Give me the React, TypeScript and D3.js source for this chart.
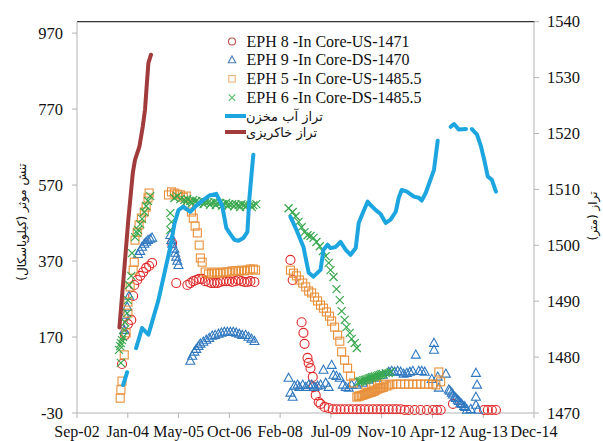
import React from "react";
import * as d3 from "d3";

// ---- data (decimal year, value) ----
const xTickLabels = ["Sep-02","Jan-04","May-05","Oct-06","Feb-08","Jul-09","Nov-10","Apr-12","Aug-13","Dec-14"];
const leftTicks = [-30, 170, 370, 570, 770, 970];
const rightTicks = [1470, 1480, 1490, 1500, 1510, 1520, 1530, 1540];

const seriesNames = [
  "EPH 8 -In Core-US-1471",
  "EPH 9 -In Core-DS-1470",
  "EPH 5 -In Core-US-1485.5",
  "EPH 6 -In Core-DS-1485.5",
];
const lineNames = ["تراز آب مخزن", "تراز خاکریزی"];
const leftTitle = "تنش موثر (کیلوپاسکال)";
const rightTitle = "تراز (متر)";

const eph8: [number, number][] = [
  [2003.88,99],[2003.96,175],[2004.04,204],[2004.13,215],[2004.18,278],[2004.21,307],[2004.29,320],[2004.37,331],[2004.45,341],[2004.53,352],[2004.61,357],[2004.69,365],
  [2005.23,417],[2005.34,312],
  [2005.64,307],[2005.72,312],[2005.80,317],[2005.88,320],[2005.96,323],[2006.04,323],[2006.12,317],[2006.21,315],[2006.29,312],[2006.37,312],[2006.45,312],[2006.53,315],[2006.61,317],[2006.69,317],[2006.77,317],[2006.85,315],[2006.94,317],[2007.02,320],[2007.10,317],[2007.18,315],[2007.26,315],[2007.34,317],[2007.45,315],
  [2008.42,373],[2008.48,320],[2008.72,209],[2008.77,181],[2008.80,152],[2008.88,115],[2008.91,102],[2008.96,88],[2009.02,65],[2009.04,38],[2009.10,17],[2009.18,-1],[2009.23,-6],[2009.34,-14],[2009.45,-17],
  [2009.56,-20],[2009.66,-20],[2009.77,-20],[2009.88,-20],[2009.99,-20],[2010.10,-20],[2010.21,-20],[2010.31,-20],[2010.42,-20],[2010.53,-20],[2010.64,-20],[2010.75,-20],[2010.85,-20],[2010.96,-20],[2011.07,-20],[2011.18,-20],[2011.28,-20],[2011.39,-20],[2011.50,-22],[2011.61,-22],[2011.77,-22],[2011.93,-22],[2012.10,-22],[2012.26,-22],[2012.37,-22],[2012.47,-22],[2012.80,-6],
  [2013.64,-22],[2013.74,-22],[2013.85,-22],[2013.96,-22],
];

const eph9: [number, number][] = [
  [2003.94,188],[2003.96,228],[2004.02,249],[2004.07,278],[2004.31,388],[2004.37,396],[2004.42,407],[2004.48,415],[2004.53,420],[2004.58,425],[2004.64,428],[2004.69,431],
  [2005.18,438],[2005.21,425],[2005.23,415],[2005.29,402],[2005.31,391],[2005.34,381],[2005.37,370],[2005.40,359],
  [2005.72,107],[2005.77,120],[2005.83,131],[2005.88,138],[2005.94,146],[2005.99,152],[2006.07,157],[2006.15,162],[2006.23,167],[2006.31,173],[2006.39,175],[2006.48,178],[2006.56,181],[2006.64,183],[2006.72,183],[2006.80,183],[2006.88,183],[2006.96,181],[2007.04,178],[2007.12,175],[2007.21,175],[2007.29,170],[2007.37,165],[2007.45,159],
  [2008.37,62],[2008.42,23],[2008.48,12],[2008.53,41],[2008.61,44],[2008.66,38],[2008.75,44],[2008.83,38],[2008.91,44],[2008.99,44],[2009.07,38],[2009.15,41],[2009.23,44],[2009.31,83],[2009.37,49],[2009.45,38],[2009.53,96],[2009.58,70],[2009.66,67],[2009.75,62],[2009.83,44],[2009.91,38],[2009.99,36],[2010.07,44],[2010.21,44],[2010.37,49],[2010.53,57],[2010.72,62],[2010.91,70],
  [2011.07,78],[2011.15,80],[2011.23,78],[2011.31,80],[2011.39,78],[2011.47,73],[2011.56,75],[2011.64,78],[2011.72,80],[2011.80,123],[2011.88,80],[2011.96,80],[2012.04,78],
  [2012.29,154],[2012.29,136],[2012.23,59],[2012.39,65],[2012.42,36],[2012.61,73],[2012.69,31],[2012.72,28],[2012.77,23],[2012.80,18],[2012.85,12],[2012.88,9],[2012.93,4],[2012.96,1],[2013.01,-4],[2013.04,-7],[2013.10,-12],[2013.13,-15],[2013.18,-22],[2013.28,-20],
  [2013.42,75],[2013.45,44],[2013.42,12],[2013.42,-9],[2013.47,-22],
];

const eph5: [number, number][] = [
  [2003.83,9],[2003.85,31],[2003.88,54],[2003.94,123],[2003.99,181],[2004.04,233],[2004.04,262],[2004.10,302],[2004.18,346],[2004.21,367],[2004.23,425],[2004.29,446],[2004.34,465],[2004.40,483],[2004.48,499],[2004.53,512],[2004.58,536],[2004.61,549],
  [2005.13,544],[2005.21,552],[2005.29,549],[2005.37,546],[2005.45,544],[2005.53,538],[2005.61,541],[2005.67,515],[2005.75,499],[2005.80,483],[2005.85,462],[2005.91,444],[2005.96,412],[2005.99,378],[2006.04,367],
  [2006.12,341],[2006.21,336],[2006.29,338],[2006.37,341],[2006.45,338],[2006.53,338],[2006.61,341],[2006.69,341],[2006.77,341],[2006.85,344],[2006.94,344],[2007.02,344],[2007.10,346],[2007.18,344],[2007.26,346],[2007.34,349],[2007.42,349],[2007.48,346],
  [2008.42,346],[2008.50,338],[2008.58,331],[2008.66,320],[2008.75,312],[2008.83,302],[2008.91,291],[2008.99,286],[2009.07,275],[2009.15,265],[2009.23,254],[2009.31,246],[2009.39,236],[2009.47,225],[2009.53,212],[2009.61,196],[2009.69,175],[2009.75,159],[2009.80,131],[2009.88,109],[2009.96,88],[2010.04,67],[2010.12,49],
  [2010.21,12],[2010.25,14],[2010.29,15],[2010.33,16],[2010.37,17],[2010.41,19],[2010.45,20],[2010.49,22],[2010.53,23],[2010.57,24],[2010.61,25],[2010.65,27],[2010.69,28],[2010.73,31],[2010.77,33],[2010.81,35],[2010.85,36],[2010.89,37],[2010.93,38],[2011.02,41],[2011.10,44],
  [2010.45,46],[2010.61,46],[2010.77,46],[2010.93,46],
  [2011.18,46],[2011.28,46],[2011.39,46],[2011.50,46],[2011.61,46],[2011.72,46],[2011.83,46],[2011.93,46],[2012.04,46],[2012.15,46],[2012.26,46],[2012.34,44],[2012.42,78],[2012.47,52],
];

const eph6: [number, number][] = [
  [2003.85,102],[2003.80,136],[2003.83,146],[2003.85,154],[2003.88,162],[2003.91,170],[2003.94,188],[2003.96,209],[2004.02,233],[2004.04,267],[2004.07,307],[2004.13,331],[2004.15,391],[2004.23,433],[2004.29,444],[2004.31,452],[2004.37,467],[2004.42,481],[2004.48,499],[2004.53,515],[2004.58,528],[2004.64,541],
  [2005.18,496],[2005.21,473],[2005.18,452],[2005.29,536],[2005.37,541],[2005.45,533],
  [2005.56,531],[2005.64,533],[2005.72,528],[2005.80,531],[2005.88,528],[2005.96,525],[2006.04,528],[2006.12,525],[2006.21,525],[2006.29,523],[2006.37,525],[2006.45,523],[2006.53,523],[2006.61,520],[2006.69,523],[2006.77,520],[2006.85,520],[2006.94,520],[2007.02,517],[2007.10,520],[2007.18,517],[2007.26,517],[2007.34,517],[2007.42,517],[2007.50,520],
  [2005.60,525],[2005.76,522],[2005.92,521],[2006.08,520],[2006.25,518],[2006.41,517],[2006.57,516],[2006.73,515],[2006.90,514],[2007.06,512],[2007.22,513],[2007.38,512],
  [2008.37,509],[2008.48,499],[2008.56,488],[2008.64,473],[2008.72,459],[2008.80,446],[2008.88,438],[2008.96,436],[2009.04,431],[2009.12,420],[2009.21,409],[2009.29,396],[2009.37,383],[2009.45,365],[2009.50,346],[2009.58,328],[2009.66,296],[2009.75,267],[2009.80,238],[2009.88,215],[2009.93,196],[2010.02,181],[2010.07,165],[2010.15,154],[2010.21,141],
  [2010.26,52],[2010.30,53],[2010.34,54],[2010.38,56],[2010.42,57],[2010.46,58],[2010.50,59],[2010.54,61],[2010.58,62],[2010.62,64],[2010.66,65],[2010.70,66],[2010.75,67],[2010.79,69],[2010.83,70],[2010.87,72],[2010.91,73],[2010.99,75],[2011.07,75],[2011.12,78],
];

const reservoir: ([number, number] | null)[] = [
  [2003.91,1475.0],[2004.02,1477.3], null,
  [2004.26,1481.6],[2004.42,1485.2],[2004.59,1484.0],[2004.86,1490.2],[2005.18,1499.7],[2005.29,1503.8],[2005.40,1506.3],[2005.53,1506.9],[2005.72,1506.0],[2005.88,1507.1],[2006.07,1508.1],[2006.23,1508.9],[2006.42,1509.2],[2006.58,1507.1],[2006.69,1503.1],[2006.80,1502.0],[2006.91,1501.0],[2007.02,1500.8],[2007.15,1501.3],[2007.26,1502.4],[2007.31,1508.1],[2007.37,1512.6],[2007.42,1516.2], null,
  [2008.42,1505.1],[2008.58,1502.8],[2008.77,1499.7],[2008.91,1495.1],[2009.04,1494.4],[2009.23,1495.6],[2009.31,1499.2],[2009.42,1500.1],[2009.50,1499.5],[2009.64,1499.7],[2009.77,1500.6],[2009.91,1499.2],[2010.04,1498.3],[2010.18,1499.5],[2010.26,1504.0],[2010.37,1505.8],[2010.50,1507.8],[2010.58,1507.2],[2010.72,1506.3],[2010.85,1505.6],[2010.99,1504.0],[2011.12,1504.6],[2011.26,1506.0],[2011.34,1508.5],[2011.42,1509.9],[2011.56,1509.6],[2011.75,1508.7],[2011.88,1508.5],[2011.96,1508.0],[2012.07,1509.4],[2012.29,1513.5],[2012.39,1518.7], null,
  [2012.74,1521.2],[2012.83,1521.7],[2012.96,1520.7],[2013.15,1520.8], null,
  [2013.31,1520.8],[2013.45,1519.8],[2013.56,1517.6],[2013.66,1514.8],[2013.74,1512.3],[2013.85,1511.7],[2013.96,1509.6],
];

const embankment: [number, number][] = [
  [2003.81,1485.3],[2003.94,1495.6],[2004.05,1504.6],[2004.17,1512.9],[2004.23,1515.3],[2004.35,1517.7],[2004.44,1521.3],[2004.50,1524.3],[2004.55,1529.0],[2004.59,1532.6],[2004.66,1534.1],
];

// ---- helpers ----
function yearToDate(y: number): Date {
  const yr = Math.floor(y);
  const a = new Date(yr, 0, 1).getTime();
  const b = new Date(yr + 1, 0, 1).getTime();
  return new Date(a + (y - yr) * (b - a));
}

const W = 603, H = 441;
const L = 77, R = 534, T = 21.7, B = 413;
const start = new Date(2002, 8, 1);
const end = d3.timeDay.offset(start, 4500);
const x = d3.scaleTime().domain([start, end]).range([L, R]);
const yL = d3.scaleLinear().domain([-30, 1000]).range([B, T]);
const yR = d3.scaleLinear().domain([1470, 1540]).range([B, T]);
const xTicks = d3.range(10).map((i) => d3.timeDay.offset(start, 500 * i));
const fmt = d3.timeFormat("%b-%y");

const C_RED = "#e02a2a", C_BLUE = "#2f78c0", C_ORANGE = "#e8903a", C_GREEN = "#38a84e";
const C_LINE = "#1da5e0", C_BROWN = "#a23b3b";

const serif = "Liberation Serif, DejaVu Serif, serif";
const arab = "DejaVu Sans, sans-serif";

function Circle({ cx, cy, c, r = 4.5 }: any) {
  return <circle cx={cx} cy={cy} r={r} fill="none" stroke={c} strokeWidth={1.1} />;
}
function Tri({ cx, cy, c, s = 9 }: any) {
  const h = s * 0.9;
  return <path d={`M${cx},${cy - h * 0.6}L${cx + s / 2},${cy + h * 0.4}L${cx - s / 2},${cy + h * 0.4}Z`} fill="none" stroke={c} strokeWidth={1.1} />;
}
function Sq({ cx, cy, c, s = 8 }: any) {
  return <rect x={cx - s / 2} y={cy - s / 2} width={s} height={s} fill="none" stroke={c} strokeWidth={1.1} />;
}
function X({ cx, cy, c, s = 8 }: any) {
  const h = s / 2;
  return <path d={`M${cx - h},${cy - h}L${cx + h},${cy + h}M${cx - h},${cy + h}L${cx + h},${cy - h}`} stroke={c} strokeWidth={1.2} fill="none" />;
}

export default function App() {
  const lineGen = d3.line<[number, number] | null>()
    .defined((d) => d !== null)
    .x((d) => x(yearToDate((d as [number, number])[0])))
    .y((d) => yR((d as [number, number])[1]));

  const legendRows = [41.5, 60, 78.8, 97.6];
  const legendMarkX = 232;

  return (
    <svg width={W} height={H} style={{ position: "absolute", left: 0, top: 0, background: "#fff" }}>
      <rect width={W} height={H} fill="#fff" />
      {/* axes */}
      <line x1={L} x2={R + 1} y1={T} y2={T} stroke="#333" strokeWidth={1.3} />
      <line x1={L} x2={L} y1={T} y2={B} stroke="#b3b3b3" strokeWidth={1} />
      <line x1={R} x2={R} y1={T} y2={B} stroke="#b3b3b3" strokeWidth={1} />
      <line x1={L} x2={R} y1={B} y2={B} stroke="#b3b3b3" strokeWidth={1} />
      {leftTicks.map((t) => (
        <g key={"l" + t}>
          <line x1={L - 5} x2={L} y1={yL(t)} y2={yL(t)} stroke="#b3b3b3" />
          <text x={63} y={yL(t)} dy="0.35em" textAnchor="end" style={{ fontFamily: serif }} fontSize={16.5} fill="#111">{t}</text>
        </g>
      ))}
      {rightTicks.map((t) => (
        <g key={"r" + t}>
          <line x1={R} x2={R + 5} y1={yR(t)} y2={yR(t)} stroke="#b3b3b3" />
          <text x={547} y={yR(t)} dy="0.35em" textAnchor="start" style={{ fontFamily: serif }} fontSize={16.5} fill="#111">{t}</text>
        </g>
      ))}
      {xTicks.map((t, i) => (
        <g key={"x" + i}>
          <line x1={x(t)} x2={x(t)} y1={B} y2={B + 5} stroke="#b3b3b3" />
          <text x={x(t)} y={437} textAnchor="middle" style={{ fontFamily: serif }} fontSize={16} fill="#111">{xTickLabels[i] ?? fmt(t)}</text>
        </g>
      ))}
      <text transform={`translate(22,222) rotate(-90)`} textAnchor="middle" dy="0.35em" style={{ fontFamily: arab }} fontSize={12} fill="#111">{leftTitle}</text>
      <text transform={`translate(593,216) rotate(-90)`} textAnchor="middle" dy="0.35em" style={{ fontFamily: arab }} fontSize={12} fill="#111">{rightTitle}</text>

      {/* scatter series */}
      <g>
        {eph8.map((d, i) => <Circle key={"a" + i} cx={x(yearToDate(d[0]))} cy={yL(d[1])} c={C_RED} />)}
        {eph9.map((d, i) => <Tri key={"b" + i} cx={x(yearToDate(d[0]))} cy={yL(d[1])} c={C_BLUE} />)}
        {eph5.map((d, i) => <Sq key={"c" + i} cx={x(yearToDate(d[0]))} cy={yL(d[1])} c={C_ORANGE} />)}
        {eph6.map((d, i) => <X key={"d" + i} cx={x(yearToDate(d[0]))} cy={yL(d[1])} c={C_GREEN} />)}
      </g>
      <path d={lineGen(reservoir) || ""} fill="none" stroke={C_LINE} strokeWidth={4} strokeLinejoin="round" strokeLinecap="round" />
      <path d={lineGen(embankment) || ""} fill="none" stroke={C_BROWN} strokeWidth={4} strokeLinejoin="round" strokeLinecap="round" />

      {/* legend */}
      <rect x={222} y={30} width={205} height={112} fill="#fff" />
      <Circle cx={legendMarkX} cy={legendRows[0]} c="#c0504d" r={3.5} />
      <Tri cx={legendMarkX} cy={legendRows[1]} c="#4a7ebb" s={7.5} />
      <Sq cx={legendMarkX} cy={legendRows[2]} c="#efb27a" s={6.5} />
      <X cx={legendMarkX} cy={legendRows[3]} c="#5cb870" s={6.5} />
      {seriesNames.map((n, i) => (
        <text key={n} x={246.5} y={legendRows[i]} dy="0.33em" style={{ fontFamily: serif }} fontSize={16} fill="#111">{n}</text>
      ))}
      <line x1={225} x2={246} y1={116} y2={116} stroke={C_LINE} strokeWidth={4} />
      <line x1={225} x2={246} y1={132} y2={132} stroke={C_BROWN} strokeWidth={4} />
      <text x={246} y={116} dy="0.35em" style={{ fontFamily: arab }} fontSize={13} fill="#111">{lineNames[0]}</text>
      <text x={246} y={132} dy="0.35em" style={{ fontFamily: arab }} fontSize={13} fill="#111">{lineNames[1]}</text>
    </svg>
  );
}
